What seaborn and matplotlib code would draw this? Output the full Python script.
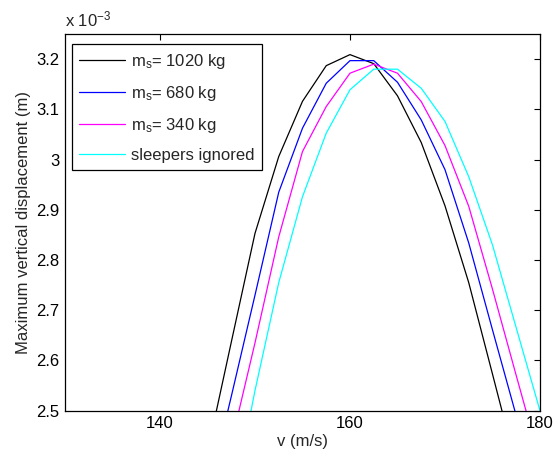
import numpy as np
import pandas as pd
import matplotlib
matplotlib.use("Agg")
import matplotlib.pyplot as plt
import seaborn as sns
from matplotlib.ticker import FixedLocator, FuncFormatter

# ---- data (displacement in units of 1e-3 m) ----
v_1020 = [145, 147.5, 150, 152.5, 155, 157.5, 160, 162.5, 165, 167.5, 170, 172.5, 175, 177.5]
d_1020 = [2.418, 2.636, 2.853, 3.006, 3.116, 3.187, 3.209, 3.191, 3.127, 3.034, 2.908, 2.755, 2.573, 2.39]

v_680 = [145, 147.5, 150, 152.5, 155, 157.5, 160, 162.5, 165, 167.5, 170, 172.5, 175, 177.5, 180]
d_680 = [2.33, 2.528, 2.73, 2.935, 3.0625, 3.152, 3.197, 3.197, 3.154, 3.079, 2.98, 2.834, 2.661, 2.49, 2.32]

v_340 = [147.5, 150, 152.5, 155, 157.5, 160, 162.5, 165, 167.5, 170, 172.5, 175, 177.5, 180]
d_340 = [2.435, 2.635, 2.846, 3.016, 3.1056, 3.172, 3.19, 3.172, 3.1155, 3.028, 2.907, 2.742, 2.57, 2.40]

v_ign = [147.5, 150, 152.5, 155, 157.5, 160, 162.5, 165, 167.5, 170, 172.5, 175, 177.5, 180]
d_ign = [2.30, 2.54, 2.755, 2.926, 3.0526, 3.139, 3.180, 3.180, 3.142, 3.076, 2.966, 2.83, 2.665, 2.50]

labels = ['m$_{s}$= 1020 kg', 'm$_{s}$= 680 kg', 'm$_{s}$= 340 kg', 'sleepers ignored']
colors = ['#000000', '#0000ff', '#ff00ff', '#00ffff']

x_ticks = [140, 160, 180]
y_ticks = [2.5, 2.6, 2.7, 2.8, 2.9, 3.0, 3.1, 3.2]

frames = []
for lab, vv, dd in zip(labels, [v_1020, v_680, v_340, v_ign], [d_1020, d_680, d_340, d_ign]):
    frames.append(pd.DataFrame({'v': vv, 'd': np.array(dd) * 1e-3, 'series': lab}))
df = pd.concat(frames, ignore_index=True)

sns.set_style("white")
plt.rcParams['font.family'] = ['Liberation Sans', 'DejaVu Sans']
plt.rcParams['mathtext.default'] = 'regular'
FS = 12
plt.rcParams['font.size'] = FS

fig = plt.figure(figsize=(5.54, 4.61), dpi=100)
ax = fig.add_axes([0.1173, 0.1091, 0.8574, 0.8171])

sns.lineplot(data=df, x='v', y='d', hue='series', hue_order=labels,
             palette=dict(zip(labels, colors)), sort=False, estimator=None,
             linewidth=0.9, legend=False, ax=ax)

ax.set_xlim(130, 180)
ax.set_ylim(2.5e-3, 3.25e-3)
ax.xaxis.set_major_locator(FixedLocator(x_ticks))
ax.yaxis.set_major_locator(FixedLocator([t * 1e-3 for t in y_ticks]))
ax.yaxis.set_major_formatter(FuncFormatter(lambda val, pos: ('%.1f' % (val * 1e3)).rstrip('0').rstrip('.')))
ax.tick_params(direction='in', length=4, width=0.8, top=True, right=True,
               labelsize=FS, colors='black', pad=4)
for s in ax.spines.values():
    s.set_visible(True)
    s.set_color('black')
    s.set_linewidth(0.9)

ax.set_xlabel('v (m/s)', fontsize=FS, labelpad=2)
ax.set_ylabel('Maximum vertical displacement (m)', fontsize=FS, labelpad=4)

ax.text(0.0, 1.012, 'x 10$^{-3}$', transform=ax.transAxes, fontsize=FS,
        ha='left', va='bottom')

leg = ax.legend(ax.lines[:4], labels, loc='upper left', bbox_to_anchor=(0.0147, 0.9735),
                borderaxespad=0, frameon=True, fancybox=False, shadow=False,
                handlelength=2.75, handletextpad=0.35, labelspacing=0.78,
                borderpad=0.45, fontsize=FS)
leg.get_frame().set_edgecolor('black')
leg.get_frame().set_linewidth(0.9)
leg.get_frame().set_facecolor('white')
leg.get_frame().set_alpha(1)

fig.savefig('out.png', dpi=100, facecolor='white')
